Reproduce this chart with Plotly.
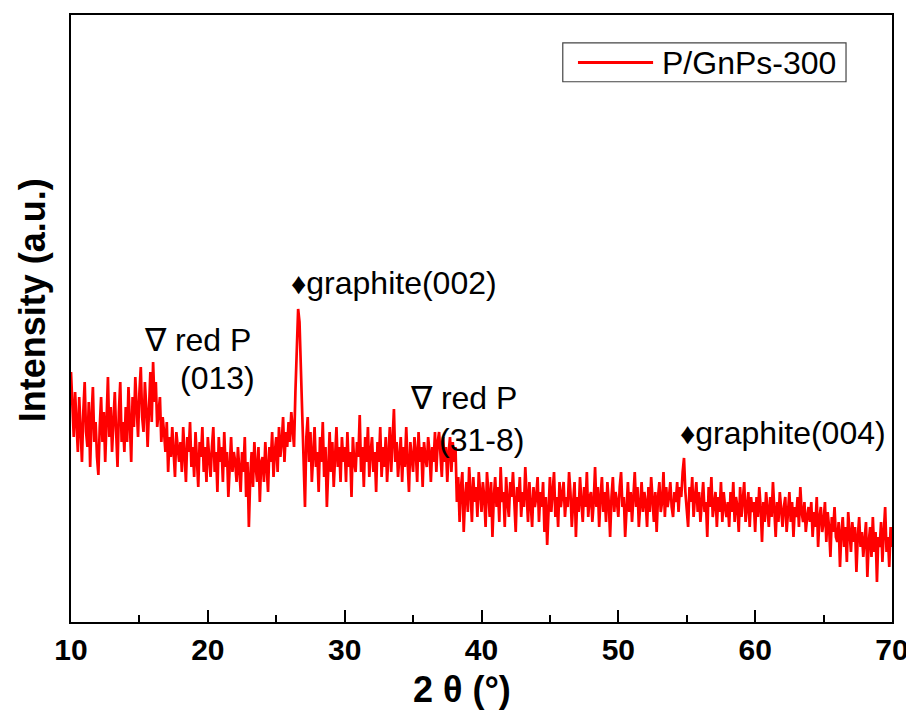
import plotly.graph_objects as go

# 2theta grid (degrees), step 0.1 from 10 to 70
two_theta_start = 10.0
two_theta_step = 0.1

# Intensity (a.u.), 20 values per 2 degrees
intensity = [
    250, 215, 185, 230, 200, 170, 225, 195, 160, 210, 240, 190, 175, 220, 155, 205, 235, 180, 200, 165,  # 10
    147, 195, 225, 180, 210, 160, 200, 245, 185, 215, 170, 205, 230, 190, 155, 210, 240, 180, 200, 170,  # 12
    215, 180, 235, 200, 160, 225, 195, 245, 210, 185, 230, 255, 205, 190, 240, 215, 175, 225, 250, 200,  # 14
    260, 220, 240, 195, 215, 225, 180, 205, 190, 170, 200, 150, 185, 165, 195, 175, 145, 190, 170, 160,  # 16
    180, 150, 195, 165, 140, 185, 170, 200, 155, 175, 145, 190, 160, 135, 180, 165, 195, 150, 175, 140,  # 18
    185, 160, 145, 175, 195, 150, 170, 130, 185, 160, 175, 140, 190, 155, 170, 125, 165, 185, 150, 170,  # 20
    160, 140, 175, 155, 130, 170, 150, 185, 125, 160, 95, 145, 170, 135, 180, 155, 140, 175, 120, 160,   # 22
    165, 140, 180, 155, 130, 175, 160, 190, 145, 170, 185, 150, 195, 165, 180, 205, 160, 190, 175, 200,  # 24
    180, 210, 195, 175, 230, 275, 313, 300, 250, 210, 150, 115, 185, 205, 160, 190, 140, 175, 195, 155,  # 26
    170, 130, 185, 160, 200, 145, 175, 115, 165, 190, 150, 180, 135, 170, 195, 155, 175, 140, 185, 160,  # 28
    175, 140, 190, 155, 170, 125, 185, 160, 150, 180, 165, 207, 150, 175, 135, 185, 160, 195, 145, 170,  # 30
    185, 150, 170, 130, 180, 160, 195, 145, 175, 155, 185, 140, 170, 195, 150, 175, 213, 160, 180, 145,  # 32
    165, 185, 140, 175, 155, 195, 160, 130, 180, 165, 150, 185, 170, 140, 190, 160, 175, 135, 180, 165,  # 34
    155, 185, 170, 140, 175, 160, 190, 150, 180, 190, 165, 145, 185, 160, 175, 140, 170, 185, 150, 180,  # 36
    160, 175, 120, 145, 100, 135, 150, 90, 125, 140, 110, 155, 130, 100, 145, 120, 135, 105, 150, 125,   # 38
    110, 140, 125, 95, 150, 130, 105, 140, 85, 125, 145, 115, 135, 100, 155, 120, 130, 95, 145, 120,     # 40
    105, 140, 125, 150, 110, 90, 135, 120, 145, 105, 130, 115, 155, 125, 100, 140, 120, 95, 135, 115,    # 42
    125, 145, 100, 130, 115, 140, 90, 125, 77, 120, 145, 110, 130, 150, 105, 125, 95, 140, 115, 130,     # 44
    140, 105, 125, 115, 150, 130, 95, 120, 140, 85, 125, 110, 145, 120, 100, 135, 115, 150, 105, 125,    # 46
    130, 100, 120, 155, 115, 135, 95, 125, 145, 110, 130, 100, 140, 120, 85, 125, 145, 110, 130, 120,    # 48
    105, 135, 150, 115, 125, 85, 120, 140, 110, 130, 100, 125, 150, 115, 135, 95, 120, 140, 110, 130,    # 50
    120, 95, 135, 110, 145, 120, 100, 130, 90, 125, 140, 110, 120, 150, 105, 135, 115, 125, 140, 115,    # 52
    105, 130, 120, 140, 110, 135, 125, 150, 164, 130, 110, 95, 135, 120, 145, 105, 125, 140, 110, 130,   # 54
    100, 125, 140, 110, 120, 85, 135, 115, 145, 105, 120, 130, 95, 125, 110, 140, 100, 130, 115, 105,    # 56
    120, 95, 130, 110, 140, 100, 125, 115, 90, 135, 105, 120, 140, 100, 115, 130, 95, 125, 110, 120,     # 58
    90, 125, 105, 135, 115, 80, 120, 100, 130, 110, 95, 125, 105, 140, 115, 85, 120, 100, 130, 110,      # 60
    95, 115, 125, 90, 110, 130, 100, 120, 85, 115, 105, 125, 95, 135, 110, 100, 120, 90, 105, 115,       # 62
    100, 120, 85, 110, 95, 125, 75, 105, 115, 90, 100, 120, 80, 110, 95, 65, 105, 90, 115, 85,           # 64
    80, 100, 55, 90, 105, 75, 95, 60, 110, 85, 70, 100, 80, 95, 50, 85, 105, 75, 90, 65,                 # 66
    85, 100, 45, 80, 95, 65, 105, 70, 90, 40, 85, 75, 100, 60, 90, 115, 70, 85, 55, 95,                  # 68
    75,                                                                                                  # 70
]
two_theta = [round(two_theta_start + i * two_theta_step, 2) for i in range(len(intensity))]

x_tick_vals = [10, 20, 30, 40, 50, 60, 70]
x_tick_text = ["10", "20", "30", "40", "50", "60", "70"]

# Peak labels: (text, 2theta, intensity)
peak_labels = [
    ("∇ red P", 15.2, 282),
    ("(013)", 17.8, 244),
    ("<span style='font-size:30px'>♦</span>graphite(002)", 25.95, 339),
    ("∇ red P", 34.6, 224),
    ("(31-8)", 36.75, 182),
    ("<span style='font-size:30px'>♦</span>graphite(004)", 54.35, 189),
]

series_name = "P/GnPs-300"
x_title = "2 θ (°)"
y_title = "Intensity (a.u.)"
label_font = "Liberation Sans, Arial, sans-serif"

fig = go.Figure()
fig.add_trace(go.Scatter(
    x=two_theta, y=intensity, mode="lines", name=series_name,
    line=dict(color="#ff0000", width=2.7), showlegend=False,
))

for txt, xv, yv in peak_labels:
    fig.add_annotation(x=xv, y=yv, text=txt, showarrow=False, xanchor="left",
                       yanchor="middle",
                       font=dict(family=label_font, size=32, color="#000"))

# Axis titles
fig.add_annotation(xref="paper", yref="paper", x=0.476, y=-0.112, text=x_title,
                   showarrow=False, xanchor="center", yanchor="middle",
                   font=dict(family=label_font, size=36, color="black", weight="bold"))
fig.add_annotation(xref="paper", yref="paper", x=-0.0475, y=0.530, text=y_title,
                   textangle=-90, showarrow=False, xanchor="center", yanchor="middle",
                   font=dict(family=label_font, size=36, color="black", weight="bold"))

# Legend box
fig.add_shape(type="rect", xref="paper", yref="paper", x0=0.599, x1=0.944, y0=0.890, y1=0.954,
              line=dict(color="#444", width=1.2), fillcolor="white", layer="above")
fig.add_shape(type="line", xref="paper", yref="paper", x0=0.6175, x1=0.709, y0=0.9217, y1=0.9217,
              line=dict(color="#ff0000", width=3), layer="above")
fig.add_annotation(xref="paper", yref="paper", x=0.7174, y=0.9217, text=series_name,
                   showarrow=False, xanchor="left", yanchor="middle",
                   font=dict(family=label_font, size=32, color="#000"))

fig.update_layout(
    width=906, height=712,
    margin=dict(l=63, r=22, t=7, b=98, autoexpand=False),
    paper_bgcolor="white", plot_bgcolor="white",
    showlegend=False,
    xaxis=dict(
        range=[10, 70], tickvals=x_tick_vals, ticktext=x_tick_text,
        ticks="inside", ticklen=12, tickwidth=2, tickcolor="black",
        minor=dict(dtick=5, tick0=10, ticks="inside", ticklen=7, tickwidth=2, tickcolor="black"),
        showline=True, linecolor="black", linewidth=2, mirror=True,
        showgrid=False, zeroline=False, automargin=False,
        tickfont=dict(family=label_font, size=30, color="black", weight="bold"),
    ),
    yaxis=dict(
        range=[0, 607], showticklabels=False, ticks="",
        showline=True, linecolor="black", linewidth=2, mirror=True,
        showgrid=False, zeroline=False, automargin=False,
    ),
)

fig.write_html("out.html")
